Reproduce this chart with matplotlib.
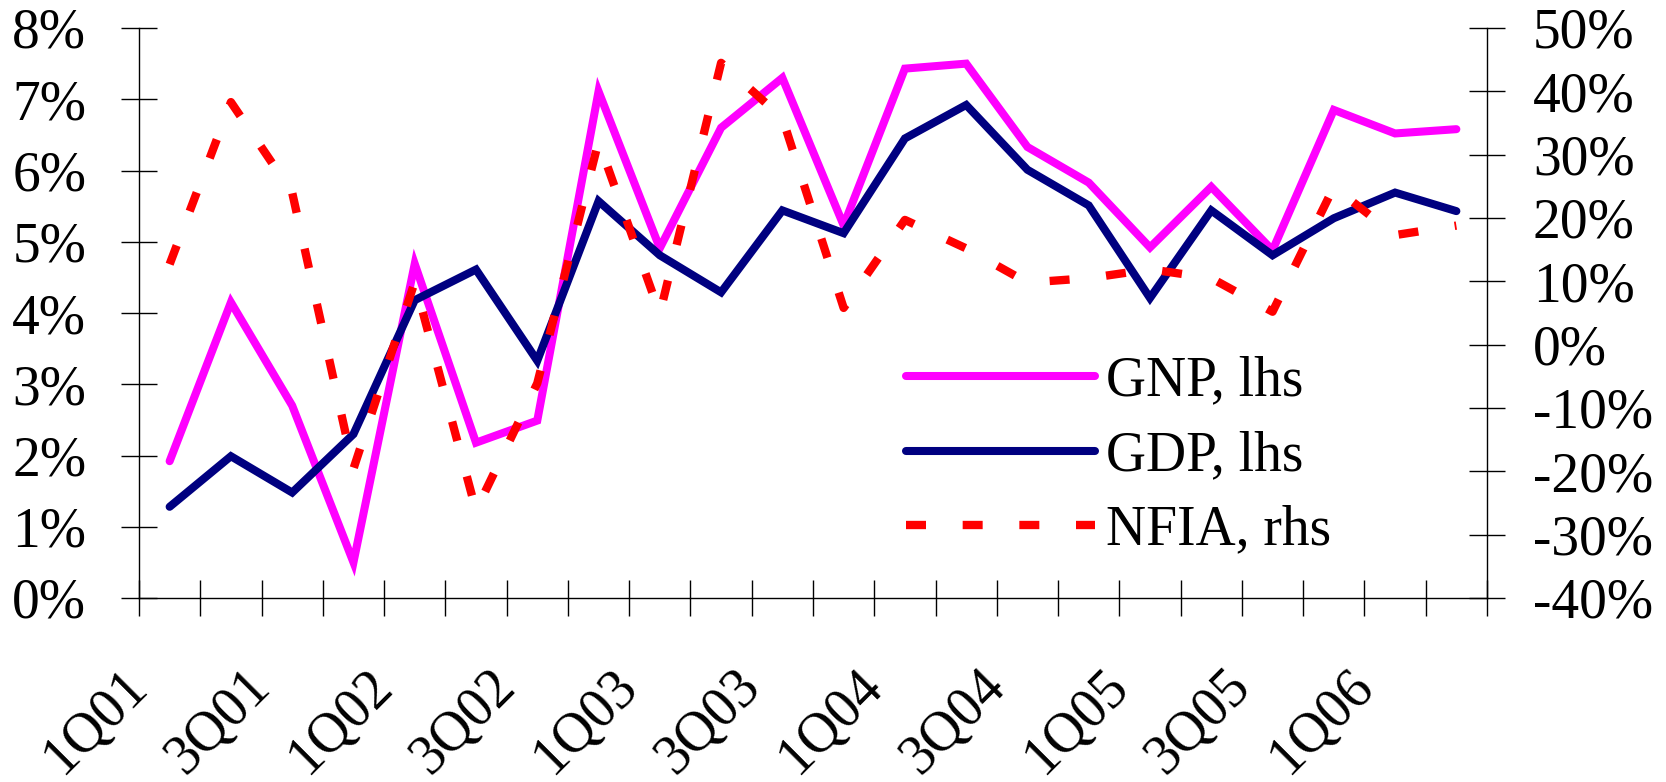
import matplotlib
matplotlib.use("Agg")
import matplotlib.pyplot as plt
import matplotlib.transforms as mtransforms
from matplotlib.ticker import FuncFormatter, MultipleLocator

plt.rcParams['font.family'] = ['Liberation Serif', 'DejaVu Serif']

quarters = ['1Q01', '2Q01', '3Q01', '4Q01', '1Q02', '2Q02', '3Q02', '4Q02',
            '1Q03', '2Q03', '3Q03', '4Q03', '1Q04', '2Q04', '3Q04', '4Q04',
            '1Q05', '2Q05', '3Q05', '4Q05', '1Q06', '2Q06']

# y/y growth, percent
gnp = [1.92, 4.15, 2.70, 0.50, 4.69, 2.18, 2.49, 7.11, 4.91, 6.60, 7.30,
       5.23, 7.43, 7.50, 6.33, 5.83, 4.92, 5.77, 4.88, 6.85, 6.52, 6.58]
gdp = [1.28, 1.99, 1.48, 2.30, 4.18, 4.61, 3.33, 5.57, 4.81, 4.29, 5.44,
       5.12, 6.45, 6.92, 6.01, 5.51, 4.21, 5.44, 4.81, 5.33, 5.69, 5.43]
nfia = [12.7, 38.3, 24.0, -19.6, 9.9, -26.2, -6.1, 32.1, 4.9, 44.5, 35.8,
        5.8, 19.7, 15.2, 9.8, 10.5, 11.9, 10.5, 5.2, 24.9, 17.3, 18.8]

x = list(range(len(quarters)))

W, H = 1666, 782
fig = plt.figure(figsize=(W / 100, H / 100), dpi=100)
ax = fig.add_axes([139 / W, 1 - 598 / H, (1487 - 139) / W, (598 - 28) / H])
ax2 = ax.twinx()

l1, = ax.plot(x, gnp, color='#FF00FF', lw=5.8, solid_capstyle='round',
              solid_joinstyle='miter', label='GNP, lhs')
l2, = ax.plot(x, gdp, color='#000080', lw=5.8, solid_capstyle='round',
              solid_joinstyle='miter', label='GDP, lhs')
l3, = ax2.plot(x, nfia, color='#FF0000', lw=6, dashes=(2.4, 4.4),
               dash_capstyle='butt', label='NFIA, rhs')

ax.set_xlim(-0.5, len(quarters) - 0.5)
ax.set_ylim(0, 8)
ax2.set_ylim(-40, 50)
ax.yaxis.set_major_locator(MultipleLocator(1))
ax2.yaxis.set_major_locator(MultipleLocator(10))
pct = FuncFormatter(lambda v, p: f"{v:.0f}%")
ax.yaxis.set_major_formatter(pct)
ax2.yaxis.set_major_formatter(pct)

# tick marks at category boundaries, labels on every other quarter
ax.set_xticks([i - 0.5 for i in range(len(quarters) + 1)])
ax.set_xticklabels([])
ax.set_xticks(x[::2], minor=True)
ax.set_xticklabels(quarters[::2], minor=True, rotation=45, ha='right', va='top')
ax.tick_params(axis='x', which='major', direction='inout', length=26, width=1)
ax.tick_params(axis='x', which='minor', length=0, pad=45, labelsize=40)
shift = mtransforms.ScaledTranslation(-12 / 100, 0, fig.dpi_scale_trans)
for lab in ax.get_xticklabels(minor=True):
    lab.set_transform(lab.get_transform() + shift)

ax.tick_params(axis='y', direction='inout', length=26, width=1, pad=25, labelsize=40)
ax2.tick_params(axis='y', direction='inout', length=26, width=1, pad=20, labelsize=40)

for s in ['top', 'right']:
    ax.spines[s].set_visible(False)
for s in ['top', 'left', 'bottom']:
    ax2.spines[s].set_visible(False)
for sp in [ax.spines['left'], ax.spines['bottom'], ax2.spines['right']]:
    sp.set_linewidth(1)

leg = ax2.legend(handles=[l1, l2, l3], loc='center left',
                 bbox_to_anchor=(906 / W, 1 - 456 / H), bbox_transform=fig.transFigure,
                 frameon=False, fontsize=40, handlelength=3.4, handletextpad=0.2,
                 labelspacing=0.4, borderpad=0, borderaxespad=0)

fig.savefig('out.png', dpi=100)
